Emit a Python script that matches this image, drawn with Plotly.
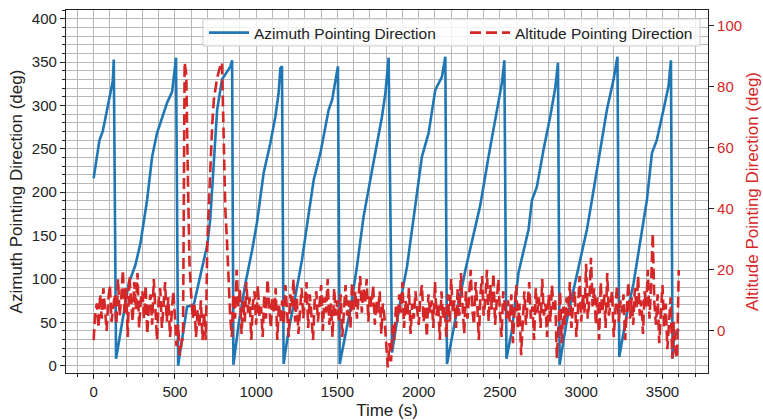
import plotly.graph_objects as go

# ---- data ----
az_time = [0, 36, 56, 83, 118, 124,
           138, 165, 216, 257, 288, 329, 360, 390, 452, 483, 507,
           520, 575, 616, 657, 700, 718, 760, 790, 842, 852,
           860, 893, 934, 975, 1005, 1046, 1087, 1118, 1138, 1149, 1159,
           1169, 1200, 1241, 1282, 1313, 1354, 1395, 1446, 1467, 1487, 1503,
           1514, 1579, 1620, 1661, 1702, 1754, 1774, 1795, 1815,
           1836, 1877, 1928, 1969, 2020, 2061, 2102, 2143, 2164,
           2174, 2225, 2287, 2348, 2379, 2430, 2482, 2512, 2527,
           2540, 2574, 2614, 2676, 2697, 2727, 2768, 2809, 2840, 2857,
           2867, 2912, 2974, 3035, 3066, 3117, 3158, 3199, 3223,
           3234, 3281, 3322, 3363, 3404, 3435, 3465, 3506, 3537, 3552,
           3562, 3570, 3600]
az_deg = [216, 260, 270, 295, 328, 353,
          8, 38, 95, 116, 141, 191, 241, 268, 303, 316, 355,
          0, 68, 70, 103, 140, 170, 295, 330, 345, 352,
          1, 49, 95, 133, 165, 222, 256, 287, 314, 343, 345,
          2, 41, 80, 122, 162, 214, 245, 295, 306, 330, 345,
          2, 64, 114, 172, 214, 268, 287, 314, 355,
          15, 64, 114, 172, 241, 268, 318, 333, 356,
          2, 53, 110, 160, 185, 241, 295, 326, 352,
          8, 41, 107, 157, 191, 206, 249, 287, 320, 349,
          1, 53, 107, 157, 191, 249, 295, 330, 356,
          10, 60, 95, 141, 191, 245, 260, 295, 322, 352,
          8, 32, 42]

alt_time = list(range(0, 3601, 10))
alt_deg = [
    -3, 6, 9, 1, 12, 4, 14, 7, 0, 10, 15, 3, 8, 12,
    2, 17, 5, 11, 20, 6, 14, -2, 18, 9, 3, 16, 7, 19, 1, 10,
    13, 4, 15, -1, 8, 12, 2, 17, 6, -3, 10, 14, 1, 9, 16, 3, 11, -2, 7, 13, 5,
    -5, 2, -8, -4,
    -2, 88, 84, 50, 22, 12,
    4, 9, -2, 7, 1, 10, -3, 6,
    -3,
    30, 45, 58, 68, 76, 80, 83, 85, 87, 88,
    60, 40, 30, 15, 5, -2,
    12, 4, 20, 8, 14, -1, 10, 3, 16, 6, 11, -3, 9, 13, 2, 15, 5, 8, -2, 12,
    4, 17, 7, 1, 11, 6, 14, -3, 9, 3,
    10, 2, 15, 6, -2, 12, 8, 17, 3, 11, -1, 7, 14, 4, 9, 16, 1, 12, 5, -3,
    10, 13, 3, 8, 15, 0, 11, 6, 17, 2, 9, -2, 14, 5, 10,
    3, 12, -2, 8, 15, 5, 10, 1, 16, 7, 13, 4, 11, 18, 6, 14, 9, 17, 3, 12,
    8, 15, 2, 10, 6, 13, -1, 9, 4,
    -6, -12, -4, -10, 2, -3,
    8, 3, 12, 6, 16, 1, 10, 5, 14, -1, 9, 4, 13, 7, 2, 11, 15, 3, 8, -2,
    12, 6, 10, 1, 16, 5, 9, -3, 13, 4,
    8, -2, 12, 3, 17, 6, 10, 1, 14, 5, 19, 8, -1, 13, 4, 11, 20, 7, 2, 16,
    9, -3, 12, 18, 5, 10, 20, 3, 15, 7, 19, 2, 11, 17, 6, -2, 13, 8, 4, 10,
    3, 12, -4, 7, 15, 1, 9, -8, 5, 13, 2, 10, 16, 4, 8, -3, 14, 6, 11, 1,
    17, 5, 9, -2, 12, 3, 15, 7, 10, -9, 4, 13, -4, 8, 2,
    11, 5, 16, 1, 9, 13, -2, 7, 18, 3, 12, 6, 22, 4, 10, 24, 8, 14, 2, 11,
    -3, 16, 6, 12, 1, 19, 5, 9, 13, -2, 7, 15, 3, 10, 6,
    12, -3, 8, 16, 4, 11, 2, 14, 7, 18, 5, 10, -1, 13, 8, 20, 4, 15, 32, 9,
    2, 12, -4, 7, 15, 1, 9, -6, 4, 11, -9, 3, -7, -9, 20]

x_ticks = [0, 500, 1000, 1500, 2000, 2500, 3000, 3500]
az_ticks = [0, 50, 100, 150, 200, 250, 300, 350, 400]
alt_ticks = [0, 20, 40, 60, 80, 100]

BLUE = "#1f77b4"
RED = "#d62728"
FONT = "Liberation Sans, Arial, sans-serif"
GRID = "#b8b8b8"

# plot-area geometry in pixels (for legend placement)
W, H = 763, 420
ML, MR, MT, MB = 66, 55, 10, 47
PW, PH = W - ML - MR, H - MT - MB


def px_x(px):
    return (px - ML) / PW


def px_y(py):
    return (H - MB - py) / PH


fig = go.Figure()
fig.add_trace(go.Scatter(x=az_time, y=az_deg, mode="lines",
                         name="Azimuth Pointing Direction",
                         line=dict(color=BLUE, width=2.6), yaxis="y",
                         legend="legend"))
fig.add_trace(go.Scatter(x=alt_time, y=alt_deg, mode="lines",
                         name="Altitude Pointing Direction",
                         line=dict(color=RED, width=2.6, dash="11px,5px"),
                         yaxis="y2", legend="legend2"))

leg_common = dict(orientation="h", xanchor="left", yanchor="top",
                  bgcolor="rgba(0,0,0,0)", borderwidth=0, itemwidth=40,
                  font=dict(size=15.5, color="#222222"))

fig.update_layout(
    width=W, height=H,
    margin=dict(l=ML, r=MR, t=MT, b=MB, autoexpand=False),
    paper_bgcolor="white", plot_bgcolor="white",
    font=dict(family=FONT, size=15, color="#222222"),
    showlegend=True,
    legend=dict(x=px_x(204), y=px_y(16), **leg_common),
    legend2=dict(x=px_x(465), y=px_y(16), **leg_common),
    shapes=[dict(type="rect", xref="paper", yref="paper", layer="above",
                 x0=px_x(203), x1=px_x(700), y0=px_y(46), y1=px_y(19),
                 fillcolor="rgba(255,255,255,0.82)",
                 line=dict(color="#cccccc", width=1))],
    xaxis=dict(range=[-170, 3780], tickvals=x_ticks, ticks="outside", ticklen=5,
               tickcolor="#222", showline=True, linecolor="#222", linewidth=1.2,
               mirror=True, showgrid=True, gridcolor=GRID, gridwidth=1, zeroline=False,
               automargin=False,
               title=dict(text="Time (s)", font=dict(size=17), standoff=5),
               minor=dict(dtick=100, tick0=0, showgrid=True, gridcolor=GRID,
                          ticks="outside", ticklen=3, tickcolor="#222")),
    yaxis=dict(range=[-8.5, 410], tickvals=az_ticks, ticks="outside", ticklen=5,
               tickcolor="#222", showline=True, linecolor="#222", linewidth=1.2,
               showgrid=True, gridcolor=GRID, gridwidth=1, zeroline=False,
               automargin=False,
               title=dict(text="Azimuth Pointing Direction (deg)", font=dict(size=17),
                          standoff=4),
               minor=dict(dtick=10, tick0=0, showgrid=True, gridcolor=GRID,
                          ticks="outside", ticklen=3, tickcolor="#222")),
    yaxis2=dict(range=[-13.8, 105.2], tickvals=alt_ticks, overlaying="y", side="right",
                ticks="outside", ticklen=5, tickcolor="#222", showline=True,
                linecolor="#222", linewidth=1.2, showgrid=False, zeroline=False,
                automargin=False, tickfont=dict(color=RED),
                title=dict(text="Altitude Pointing Direction (deg)",
                           font=dict(size=17, color=RED), standoff=4)),
)

fig.write_html("out.html")
